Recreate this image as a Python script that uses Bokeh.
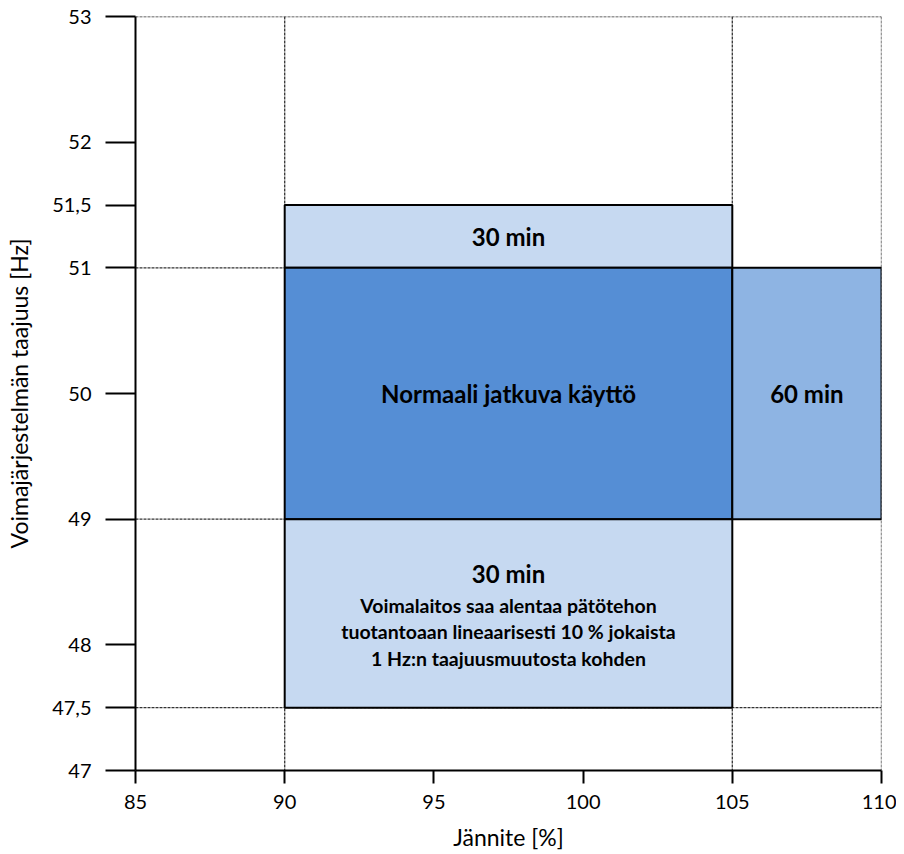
from bokeh.plotting import figure
from bokeh.models import FixedTicker, ColumnDataSource, Range1d, Span
from bokeh.core.properties import value
from bokeh.embed import file_html
from bokeh.resources import INLINE

# ---- data ----
x_ticks = [85, 90, 95, 100, 105, 110]
y_ticks = [47, 47.5, 48, 49, 50, 51, 51.5, 52, 53]
y_tick_labels = ["47", "47,5", "48", "49", "50", "51", "51,5", "52", "53"]
x_grid_values = [90, 105, 110]
y_grid_values = [47.5, 49, 51, 53]

zone_left = [90, 90, 105, 90]
zone_right = [105, 105, 110, 105]
zone_bottom = [51, 49, 49, 47.5]
zone_top = [51.5, 51, 51, 49]
zone_colors = ["#C6D9F1", "#558ED5", "#8EB4E3", "#C6D9F1"]
zone_titles = ["30 min", "Normaali jatkuva käyttö", "60 min", "30 min"]
note_lines = ["Voimalaitos saa alentaa pätötehon",
              "tuotantoaan lineaarisesti 10 % jokaista",
              "1 Hz:n taajuusmuutosta kohden"]

FONT = "Lato"

p = figure(width=896, height=854, output_backend="svg", toolbar_location=None,
           x_range=Range1d(85, 110), y_range=Range1d(47, 53),
           min_border_left=135, min_border_right=15, min_border_top=16,
           min_border_bottom=84)
p.outline_line_color = None
p.background_fill_color = "white"
p.xgrid.grid_line_color = None
p.ygrid.grid_line_color = None

# dashed guide lines
for v in x_grid_values:
    p.add_layout(Span(location=v, dimension="height", line_color="#333333",
                      line_dash="3 1", line_width=1.3, level="underlay"))
for v in y_grid_values:
    p.add_layout(Span(location=v, dimension="width", line_color="#333333",
                      line_dash="3 1", line_width=1.3, level="underlay"))

# zones
src = ColumnDataSource(dict(left=zone_left, right=zone_right, bottom=zone_bottom,
                            top=zone_top, color=zone_colors))
p.quad(left="left", right="right", bottom="bottom", top="top", source=src,
       fill_color="color", line_color="black", line_width=2)

# zone titles
cx = [(l + r) / 2 for l, r in zip(zone_left, zone_right)]
cy = [(b + t) / 2 for b, t in zip(zone_bottom, zone_top)]
yoff = [0, 0, 0, -40]
p.text(x=cx, y=cy, text=zone_titles, y_offset=yoff, text_align="center",
       text_baseline="middle", text_font=value(FONT), text_font_style="bold",
       text_font_size="24px", text_color="black")

# note under the lower zone title
nx = [cx[3]] * len(note_lines)
ny = [cy[3]] * len(note_lines)
noff = [-8 + 26.5 * i for i in range(len(note_lines))]
p.text(x=nx, y=ny, text=note_lines, y_offset=noff, text_align="center",
       text_baseline="middle", text_font=value(FONT), text_font_style="bold",
       text_font_size="19.5px", text_color="black")

# axes
p.xaxis.ticker = FixedTicker(ticks=x_ticks)
p.yaxis.ticker = FixedTicker(ticks=y_ticks)
p.yaxis.major_label_overrides = {t: l for t, l in zip(y_ticks, y_tick_labels)}
p.xaxis.axis_label = "Jännite [%]"
p.yaxis.axis_label = "Voimajärjestelmän taajuus [Hz]"
for ax in (p.xaxis, p.yaxis):
    ax.axis_line_color = "black"
    ax.axis_line_width = 2
    ax.major_tick_line_color = "black"
    ax.major_tick_line_width = 2
    ax.minor_tick_line_color = None
    ax.major_tick_in = 0
    ax.major_label_text_font = FONT
    ax.major_label_text_font_size = "20px"
    ax.major_label_text_color = "black"
    ax.major_label_text_line_height = 1.0
    ax.axis_label_text_font = FONT
    ax.axis_label_text_font_size = "23px"
    ax.axis_label_text_font_style = "normal"
    ax.axis_label_text_color = "black"
    ax.axis_label_text_line_height = 1.0
p.yaxis.major_tick_out = 30
p.yaxis.major_label_standoff = 14
p.yaxis.axis_label_standoff = 16
p.xaxis.major_tick_out = 13
p.xaxis.major_label_standoff = 11
p.xaxis.axis_label_standoff = 11

open("out.html", "w").write(file_html(p, INLINE))
